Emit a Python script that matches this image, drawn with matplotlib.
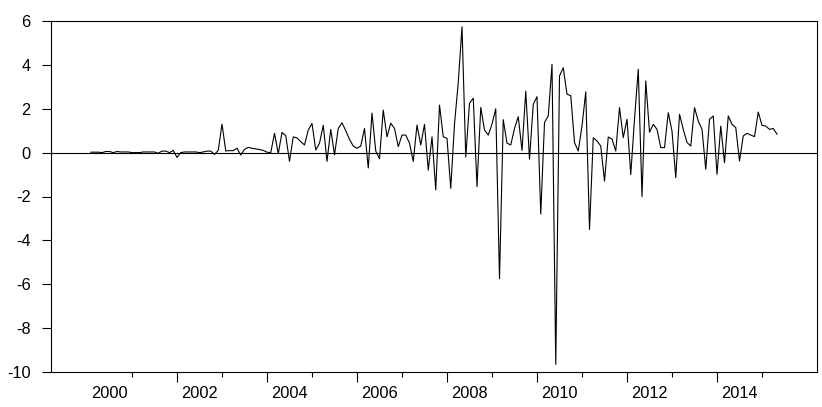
import numpy as np
import matplotlib
matplotlib.use('Agg')
import matplotlib.pyplot as plt
import matplotlib.transforms as mtransforms

plt.rcParams['font.family'] = ['Liberation Sans', 'DejaVu Sans']
plt.rcParams['axes.unicode_minus'] = False

# monthly series, first point 2000M02
start_year = 2000
start_month = 2
values_2000 = [0.02, 0.02, 0.02, 0.0, 0.05, 0.05, 0.0, 0.05, 0.03, 0.03, 0.03]
values_2001 = [0.0, 0.0, 0.0, 0.03, 0.03, 0.03, 0.03, -0.03, 0.07, 0.07, 0.0, 0.1]
values_2002 = [-0.22, 0.0, 0.03, 0.03, 0.03, 0.03, 0.0, 0.03, 0.07, 0.07, -0.08, 0.1]
values_2003 = [1.3, 0.08, 0.09, 0.09, 0.2, -0.11, 0.15, 0.24, 0.2, 0.17, 0.14, 0.1]
values_2004 = [0.02, 0.0, 0.88, -0.05, 0.92, 0.77, -0.4, 0.72, 0.67, 0.5, 0.35, 1.03]
values_2005 = [1.33, 0.12, 0.43, 1.25, -0.4, 1.06, -0.1, 1.1, 1.36, 1.0, 0.6, 0.3]
values_2006 = [0.2, 0.3, 1.1, -0.7, 1.8, 0.07, -0.28, 1.94, 0.72, 1.34, 1.1, 0.27]
values_2007 = [0.8, 0.8, 0.43, -0.4, 1.26, 0.35, 1.29, -0.8, 0.72, -1.7, 2.17, 0.72]
values_2008 = [0.65, -1.63, 1.3, 3.2, 5.74, -0.2, 2.25, 2.48, -1.55, 2.06, 1.03, 0.8]
values_2009 = [1.3, 2.0, -5.75, 1.5, 0.43, 0.35, 1.1, 1.64, 0.1, 2.8, -0.3, 2.2]
values_2010 = [2.55, -2.8, 1.37, 1.67, 4.02, -9.65, 3.5, 3.87, 2.66, 2.6, 0.46, 0.07]
values_2011 = [1.22, 2.77, -3.5, 0.68, 0.53, 0.3, -1.3, 0.71, 0.62, 0.07, 2.05, 0.68]
values_2012 = [1.52, -1.0, 1.52, 3.8, -2.0, 3.27, 0.93, 1.29, 1.06, 0.23, 0.23, 1.82]
values_2013 = [0.98, -1.14, 1.75, 1.06, 0.46, 0.3, 2.05, 1.44, 1.06, -0.76, 1.52, 1.67]
values_2014 = [-0.99, 1.21, -0.46, 1.67, 1.29, 1.14, -0.38, 0.76, 0.88, 0.8, 0.73, 1.85]
values_2015 = [1.24, 1.21, 1.06, 1.1, 0.84]

series = np.array(values_2000 + values_2001 + values_2002 + values_2003 + values_2004
                  + values_2005 + values_2006 + values_2007 + values_2008 + values_2009
                  + values_2010 + values_2011 + values_2012 + values_2013 + values_2014
                  + values_2015)
t = start_year + (start_month - 1 + np.arange(len(series))) / 12.0

y_ticks = [6, 4, 2, 0, -2, -4, -6, -8, -10]
year_labels = ['2000', '2002', '2004', '2006', '2008', '2010', '2012', '2014']
long_ticks = [2002, 2004, 2006, 2008, 2010, 2012, 2014]
short_ticks = [2001, 2003, 2005, 2007, 2009, 2011, 2013, 2015]

fig = plt.figure(figsize=(8.22, 4.07), dpi=100)
ax = fig.add_axes([51/822, 35/407, 766/822, 351/407])

ax.plot(t, series, color='black', lw=0.8)
ax.axhline(0, color='black', lw=0.8)

ax.set_xlim(1999.2, 2016.222)
ax.set_ylim(-10, 6)

ax.set_yticks(y_ticks)
ax.set_yticklabels([str(v) for v in y_ticks])
ax.tick_params(axis='y', direction='out', length=6.5, width=0.8, pad=8, labelsize=11.8)

ax.set_xticks(long_ticks)
ax.set_xticklabels([])
ax.set_xticks(short_ticks, minor=True)
ax.tick_params(axis='x', which='major', direction='out', length=7.2, width=0.8)
ax.tick_params(axis='x', which='minor', direction='out', length=3.6, width=0.8)

trans = mtransforms.blended_transform_factory(ax.transData, ax.transAxes)
for lab in year_labels:
    ax.text(int(lab) + 0.5, -0.04, lab, transform=trans, ha='center', va='top',
            fontsize=11.8)

for s in ax.spines.values():
    s.set_linewidth(0.8)

plt.savefig('out.png', dpi=100)
